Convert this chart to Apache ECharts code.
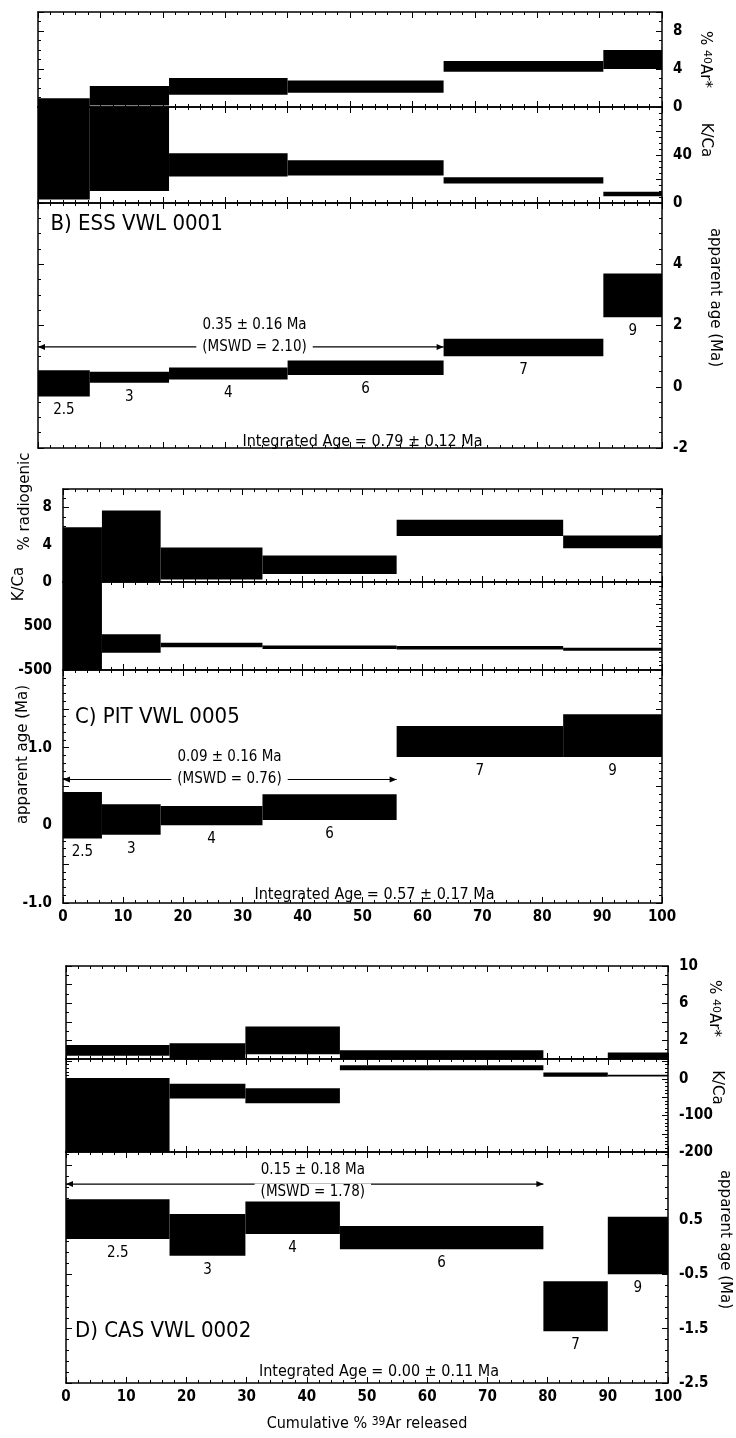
<!DOCTYPE html>
<html>
<head>
<meta charset="utf-8">
<script src="https://cdn.jsdelivr.net/npm/echarts@6.0.0/dist/echarts.min.js"></script>
<style>
  html, body { margin: 0; padding: 0; background: #fff; }
  #chart { width: 736px; height: 1438px; }
</style>
</head>
<body>
<div id="chart"></div>
<script>
// ---- data (cumulative % 39Ar step edges, lower / upper limits of each step) ----
const stepLabels = ["2.5", "3", "4", "6", "7", "9"];

// B) ESS VWL 0001
const bEdges = [0, 8.3, 21, 40, 65, 90.6, 100];
const bArLo = [-2, 0.15, 1.3, 1.5, 3.7, 4.0];
const bArHi = [0.93, 2.2, 3.05, 2.8, 4.83, 6.0];
const bKcLo = [3, 10, 22, 22.9, 16.3, 5.7];
const bKcHi = [120, 120, 41.4, 35.7, 21.4, 9.4];
const bAgeLo = [-0.32, 0.13, 0.24, 0.38, 1.0, 2.27];
const bAgeHi = [0.54, 0.49, 0.63, 0.86, 1.57, 3.7];
const bPlateau = [0, 65, 1.3];
const bPlateauText = ["0.35 ± 0.16 Ma", "(MSWD = 2.10)"];
const bIntegrated = "Integrated Age = 0.79 ± 0.12 Ma";
const bTitle = "B) ESS VWL 0001";
const bArTicks = [0, 4, 8];
const bKcTicks = [0, 40];
const bAgeTicks = [-2, 0, 2, 4];

// C) PIT VWL 0005
const cEdges = [0, 6.5, 16.3, 33.3, 55.7, 83.5, 100];
const cArLo = [-2, -2, 0.26, 0.85, 4.95, 3.64];
const cArHi = [5.9, 7.7, 3.7, 2.86, 6.7, 5.0];
const cKcLo = [-1000, -110, 15, -20, -35, -60];
const cKcHi = [2000, 310, 120, 55, 45, 5];
const cAgeLo = [-0.17, -0.12, 0.0, 0.07, 0.88, 0.88];
const cAgeHi = [0.43, 0.27, 0.25, 0.4, 1.28, 1.43];
const cPlateau = [0, 55.7, 0.59];
const cPlateauText = ["0.09 ± 0.16 Ma", "(MSWD = 0.76)"];
const cIntegrated = "Integrated Age = 0.57 ± 0.17 Ma";
const cTitle = "C) PIT VWL 0005";
const cArTicks = [0, 4, 8];
const cKcTicks = [-500, 500];
const cAgeTicks = [-1, 0, 1];
const cAgeTickText = ["-1.0", "0", "1.0"];

// D) CAS VWL 0002
const dEdges = [0, 17.2, 29.8, 45.5, 79.3, 90, 100];
const dArLo = [0.35, -1, 0.5, -1, -1, -1];
const dArHi = [1.5, 1.7, 3.5, 0.93, 0.05, 0.7];
const dKcLo = [-250, -53, -66, 24, 6, 7];
const dKcHi = [3, -13, -25, 38, 18, 12];
const dAgeLo = [0.15, -0.16, 0.24, -0.04, -1.55, -0.5];
const dAgeHi = [0.88, 0.61, 0.84, 0.39, -0.63, 0.56];
const dPlateau = [0, 79.3, 1.16];
const dPlateauText = ["0.15 ± 0.18 Ma", "(MSWD = 1.78)"];
const dIntegrated = "Integrated Age = 0.00 ± 0.11 Ma";
const dTitle = "D) CAS VWL 0002";
const dArTicks = [2, 6, 10];
const dKcTicks = [-200, -100, 0];
const dAgeTicks = [-2.5, -1.5, -0.5, 0.5];

const xTicks = [0, 10, 20, 30, 40, 50, 60, 70, 80, 90, 100];

// ---- helpers ----
const NARROW = "'Liberation Sans Narrow', 'DejaVu Sans Condensed', sans-serif";
const SANS = "'DejaVu Sans', sans-serif";

const grids = [], xAxes = [], yAxes = [], series = [];

function fmt(ticks, texts) {
  return function (v) {
    const i = ticks.findIndex(t => Math.abs(t - v) < 1e-6);
    return i < 0 ? '' : (texts ? texts[i] : String(ticks[i]));
  };
}

function boxes(edges, lo, hi) {
  return lo.map((v, i) => [edges[i], edges[i + 1], v, hi[i]]);
}

function renderBoxes(withLabels) {
  return function (params, api) {
    const a = api.coord([api.value(0), api.value(3)]);
    const b = api.coord([api.value(1), api.value(2)]);
    const cs = params.coordSys;
    const shape = echarts.graphic.clipRectByRect(
      { x: a[0], y: a[1], width: b[0] - a[0], height: b[1] - a[1] },
      { x: cs.x, y: cs.y, width: cs.width, height: cs.height });
    const children = [];
    if (shape) children.push({ type: 'rect', shape: shape, style: { fill: '#000' } });
    if (withLabels) {
      children.push({
        type: 'text', x: (a[0] + b[0]) / 2, y: b[1] + 14,
        style: { text: stepLabels[params.dataIndex], fill: '#000', font: '15px ' + NARROW,
          align: 'center', verticalAlign: 'middle', textAlign: 'center', textVerticalAlign: 'middle' }
      });
    }
    return { type: 'group', children: children };
  };
}

function txt(x, y, text, size, align, extra) {
  return {
    type: 'text', x: x, y: y,
    style: Object.assign({ text: text, fill: '#000', font: size + 'px ' + NARROW,
      align: align, verticalAlign: 'middle', textAlign: align, textVerticalAlign: 'middle' }, extra || {})
  };
}

function renderNotes(n) {
  return function (params, api) {
    const p0 = api.coord([n.plateau[0], n.plateau[2]]);
    const p1 = api.coord([n.plateau[1], n.plateau[2]]);
    const y = p0[1];
    const m = api.coord([n.textX, n.plateau[2]]);
    const t = api.coord([n.titleX, n.titleY]);
    const g = api.coord([52, n.intY]);
    return {
      type: 'group',
      children: [
        { type: 'line', shape: { x1: p0[0], y1: y, x2: p1[0], y2: y }, style: { stroke: '#000', lineWidth: 1.2 } },
        { type: 'polygon', shape: { points: [[p0[0], y], [p0[0] + 7, y - 3], [p0[0] + 7, y + 3]] }, style: { fill: '#000' } },
        { type: 'polygon', shape: { points: [[p1[0], y], [p1[0] - 7, y - 3], [p1[0] - 7, y + 3]] }, style: { fill: '#000' } },
        txt(m[0], y + n.dy2, n.text[1], 15, 'center', { backgroundColor: '#fff', padding: [1, 6] }),
        txt(m[0], y + n.dy1, n.text[0], 15, 'center'),
        txt(t[0], t[1], n.title, 22, 'left'),
        txt(g[0], g[1], n.integrated, 16, 'center')
      ]
    };
  };
}

// one grid = bottom/top x axis + left/right y axis
function addGrid(box, y, opt) {
  const gi = grids.length;
  grids.push({ left: box.left, top: box.top, width: box.width, height: box.height, outerBoundsMode: 'none' });
  ['bottom', 'top'].forEach(function (pos) {
    const labelled = pos === 'bottom' && opt.xLabels;
    xAxes.push({
      gridIndex: gi, type: 'value', position: pos, min: 0, max: 100, interval: 10,
      axisLine: { show: true, onZero: false, lineStyle: { color: '#000', width: 1.5 } },
      axisTick: { show: true, inside: true, length: 6, lineStyle: { color: '#000', width: 1 } },
      minorTick: { show: true, splitNumber: 5, length: 3, lineStyle: { color: '#000', width: 1 } },
      splitLine: { show: false },
      axisLabel: { show: !!labelled, formatter: fmt(xTicks), color: '#000', fontFamily: NARROW,
        fontSize: 15, fontWeight: 'bold', margin: 7 },
      name: pos === 'bottom' && opt.xName ? opt.xName : '',
      nameLocation: 'middle', nameGap: 33, nameMoveOverlap: false,
      nameTextStyle: { color: '#000', fontFamily: NARROW, fontSize: 16,
        rich: { sup: { fontSize: 12, fontFamily: NARROW, color: '#000', verticalAlign: 'top', lineHeight: 16 } } }
    });
  });
  ['left', 'right'].forEach(function (pos) {
    const labelled = pos === opt.side;
    const shift = y.shift || 0;
    const pad = opt.side === 'right' ? [0, 2 * shift, 0, 0] : [0, 0, 0, 2 * shift];
    yAxes.push({
      gridIndex: gi, type: 'value', position: pos, min: y.min, max: y.max, interval: y.interval,
      axisLine: { show: true, onZero: false, lineStyle: { color: '#000', width: 1.5 } },
      axisTick: { show: true, inside: true, length: 6, lineStyle: { color: '#000', width: 1 } },
      minorTick: { show: true, splitNumber: y.minor, length: 3, lineStyle: { color: '#000', width: 1 } },
      splitLine: { show: false },
      axisLabel: { show: labelled, formatter: fmt(y.ticks, y.tickText), color: '#000', fontFamily: NARROW,
        fontSize: 15, fontWeight: 'bold', margin: 11 },
      name: labelled ? y.name : '',
      nameLocation: 'middle', nameGap: y.gap, nameMoveOverlap: false,
      nameRotate: opt.side === 'right' ? -90 : 90,
      nameTextStyle: { color: '#000', fontFamily: SANS, fontSize: 15, padding: pad,
        rich: { sup: { fontSize: 11, fontFamily: SANS, color: '#000', verticalAlign: 'top', lineHeight: 15 } } }
    });
  });
  return gi;
}

function addSeries(gi, data, renderItem) {
  series.push({
    type: 'custom', xAxisIndex: 2 * gi, yAxisIndex: 2 * gi,
    renderItem: renderItem, data: data, encode: { x: [0, 1], y: [2, 3] },
    silent: true, animation: false
  });
}

function addPanel(p) {
  const g1 = addGrid({ left: p.left, width: p.width, top: p.tops[0], height: p.tops[1] - p.tops[0] }, p.ar, { side: p.side });
  const g2 = addGrid({ left: p.left, width: p.width, top: p.tops[1], height: p.tops[2] - p.tops[1] }, p.kc, { side: p.side });
  const g3 = addGrid({ left: p.left, width: p.width, top: p.tops[2], height: p.tops[3] - p.tops[2] }, p.age,
    { side: p.side, xLabels: p.xLabels, xName: p.xName });
  addSeries(g1, boxes(p.edges, p.arLo, p.arHi), renderBoxes(false));
  addSeries(g2, boxes(p.edges, p.kcLo, p.kcHi), renderBoxes(false));
  addSeries(g3, boxes(p.edges, p.ageLo, p.ageHi), renderBoxes(true));
  addSeries(g3, [p.notes.plateau], renderNotes(p.notes));
}

addPanel({
  left: 38, width: 624, tops: [12, 107, 203, 448], side: 'right',
  edges: bEdges, arLo: bArLo, arHi: bArHi, kcLo: bKcLo, kcHi: bKcHi, ageLo: bAgeLo, ageHi: bAgeHi,
  ar: { min: 0, max: 10, interval: 4, minor: 4, ticks: bArTicks, name: '% {sup|40}Ar*', gap: 35, shift: 0 },
  kc: { min: 0, max: 80, interval: 20, minor: 4, ticks: bKcTicks, name: 'K/Ca', gap: 36, shift: 15 },
  age: { min: -2, max: 6, interval: 2, minor: 4, ticks: bAgeTicks, name: 'apparent age (Ma)', gap: 45, shift: 28 },
  notes: { plateau: bPlateau, text: bPlateauText, textX: 34.7, dy1: -22, dy2: 0,
    title: bTitle, titleX: 2, titleY: 5.3, integrated: bIntegrated, intY: -1.8 }
});

addPanel({
  left: 63, width: 599, tops: [489, 582, 670, 903], side: 'left',
  edges: cEdges, arLo: cArLo, arHi: cArHi, kcLo: cKcLo, kcHi: cKcHi, ageLo: cAgeLo, ageHi: cAgeHi,
  ar: { min: 0, max: 10, interval: 4, minor: 4, ticks: cArTicks, name: '% radiogenic', gap: 30, shift: 34 },
  kc: { min: -500, max: 1500, interval: 500, minor: 5, ticks: cKcTicks, name: 'K/Ca', gap: 36, shift: 42 },
  age: { min: -1, max: 2, interval: 0.5, minor: 5, ticks: cAgeTicks, tickText: cAgeTickText,
    name: 'apparent age (Ma)', gap: 32, shift: 32 },
  xLabels: true,
  notes: { plateau: cPlateau, text: cPlateauText, textX: 27.8, dy1: -22, dy2: 0,
    title: cTitle, titleX: 2, titleY: 1.39, integrated: cIntegrated, intY: -0.89 }
});

addPanel({
  left: 66, width: 602, tops: [966, 1059, 1152, 1383], side: 'right',
  edges: dEdges, arLo: dArLo, arHi: dArHi, kcLo: dKcLo, kcHi: dKcHi, ageLo: dAgeLo, ageHi: dAgeHi,
  ar: { min: 0, max: 10, interval: 2, minor: 2, ticks: dArTicks, name: '% {sup|40}Ar*', gap: 38, shift: 4 },
  kc: { min: -200, max: 55, interval: 50, minor: 5, ticks: dKcTicks, name: 'K/Ca', gap: 41, shift: 18 },
  age: { min: -2.5, max: 1.75, interval: 1, minor: 5, ticks: dAgeTicks, name: 'apparent age (Ma)', gap: 49, shift: 28 },
  xLabels: true, xName: 'Cumulative % {sup|39}Ar released',
  notes: { plateau: dPlateau, text: dPlateauText, textX: 41, dy1: -14, dy2: 8,
    title: dTitle, titleX: 1.5, titleY: -1.55, integrated: dIntegrated, intY: -2.29 }
});

const chart = echarts.init(document.getElementById('chart'));
chart.setOption({
  backgroundColor: '#fff',
  animation: false,
  grid: grids,
  xAxis: xAxes,
  yAxis: yAxes,
  series: series
});
</script>
</body>
</html>
